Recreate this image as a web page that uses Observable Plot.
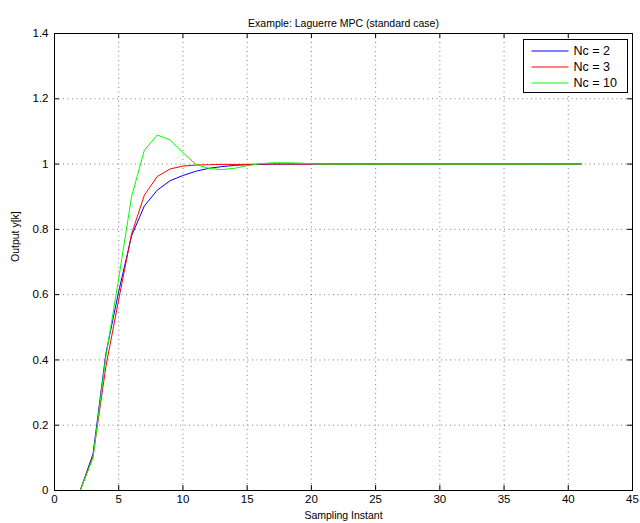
<!DOCTYPE html>
<html>
<head>
<meta charset="utf-8">
<script src="https://cdn.jsdelivr.net/npm/d3@7"></script>
<script src="https://cdn.jsdelivr.net/npm/@observablehq/plot@0.6"></script>
<style>
  html, body { margin: 0; padding: 0; background: #fff; }
  #wrap { position: relative; width: 640px; height: 523px; }
</style>
</head>
<body>
<div id="wrap"></div>
<script>
const title = "Example: Laguerre MPC (standard case)";
const xLabel = "Sampling Instant";
const yLabel = "Output y[k]";
const xTicks = [0, 5, 10, 15, 20, 25, 30, 35, 40, 45];
const yTicks = [0, 0.2, 0.4, 0.6, 0.8, 1, 1.2, 1.4];
const k = [1,2,3,4,5,6,7,8,9,10,11,12,13,14,15,16,17,18,19,20,21,22,23,24,25,26,27,28,29,30,31,32,33,34,35,36,37,38,39,40,41];
const seriesNames = ["Nc = 2", "Nc = 3", "Nc = 10"];
const seriesColors = ["#0000ff", "#ff0000", "#00ff00"];
const nc2 = [0,0,0.112,0.42,0.61,0.78,0.872,0.92,0.949,0.965,0.978,0.987,0.992,0.996,0.998,0.999,1,1,1,1,1,1,1,1,1,1,1,1,1,1,1,1,1,1,1,1,1,1,1,1,1];
const nc3 = [0,0,0.105,0.38,0.585,0.786,0.905,0.962,0.985,0.994,0.997,0.998,0.999,0.999,0.999,1,1,1,1,1,1,1,1,1,1,1,1,1,1,1,1,1,1,1,1,1,1,1,1,1,1];
const nc10 = [0,0,0.10,0.41,0.65,0.90,1.043,1.089,1.074,1.035,0.999,0.987,0.983,0.987,0.995,1.001,1.004,1.004,1.003,1.001,1,1,1,1,1,1,1,1,1,1,1,1,1,1,1,1,1,1,1,1,1];

const W = 640, H = 523, mL = 54, mR = 8, mT = 33, mB = 33;
const fW = W - mL - mR, fH = H - mT - mB;
const font = "'Liberation Sans', Arial, Helvetica, sans-serif";

const rows = [];
[nc2, nc3, nc10].forEach((vals, i) => vals.forEach((v, j) => rows.push({k: k[j], y: v, s: seriesNames[i]})));

const grid = {stroke: "#000", strokeOpacity: 0.5, strokeDasharray: "1,3.5", strokeWidth: 1};

const chart = Plot.plot({
  width: W, height: H,
  marginLeft: mL, marginRight: mR, marginTop: mT, marginBottom: mB,
  style: {fontFamily: font, fontSize: "11px", color: "#000", background: "#fff"},
  x: {domain: [0, 45]},
  y: {domain: [0, 1.4]},
  color: {domain: seriesNames, range: seriesColors},
  marks: [
    Plot.gridX(xTicks.slice(1, -1), {...grid}),
    Plot.gridY(yTicks.slice(1, -1), {...grid}),
    Plot.line(rows, {x: "k", y: "y", z: "s", stroke: "s", strokeWidth: 1}),
    Plot.ruleX(xTicks, {x: d => d, insetTop: fH - 5, stroke: "#000"}),
    Plot.ruleX(xTicks, {x: d => d, insetBottom: fH - 5, stroke: "#000"}),
    Plot.ruleY(yTicks, {y: d => d, insetRight: fW - 5, stroke: "#000"}),
    Plot.ruleY(yTicks, {y: d => d, insetLeft: fW - 5, stroke: "#000"}),
    Plot.axisX(xTicks, {tickSize: 0, tickPadding: 4, fontSize: 11.5, label: null}),
    Plot.axisY(yTicks, {tickSize: 0, tickPadding: 6, fontSize: 11.5, tickFormat: d => String(d), label: null}),
    Plot.text([xLabel], {text: d => d, frameAnchor: "bottom", dy: 28, fontSize: 10.5}),
    Plot.text([yLabel], {text: d => d, frameAnchor: "left", dx: -39, rotate: -90, fontSize: 10.5}),
    Plot.frame({stroke: "#000", strokeWidth: 1}),
    Plot.text([title], {text: d => d, frameAnchor: "top", dy: -14, fontSize: 10.5})
  ]
});
const wrap = document.getElementById("wrap");
wrap.appendChild(chart);

// legend box (upper right, MATLAB style) drawn into the SVG
const svg = d3.select(chart);
const lg = svg.append("g").attr("transform", "translate(523.5,39.5)");
lg.append("rect").attr("width", 104).attr("height", 53).attr("fill", "#fff").attr("stroke", "#000").attr("stroke-width", 1);
seriesNames.forEach((n, i) => {
  const yy = 11.5 + i * 16;
  lg.append("line").attr("x1", 8).attr("x2", 45).attr("y1", yy).attr("y2", yy)
    .attr("stroke", seriesColors[i]).attr("stroke-width", 1);
  lg.append("text").attr("x", 50).attr("y", yy).attr("dy", "0.35em")
    .attr("text-anchor", "start")
    .attr("font-family", font).attr("font-size", 12.5).attr("fill", "#000").text(n);
});
</script>
</body>
</html>
